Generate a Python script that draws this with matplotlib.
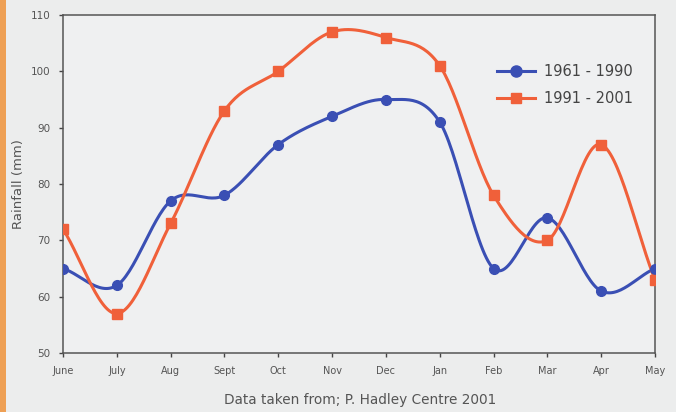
import numpy as np
import matplotlib
matplotlib.use("Agg")
import matplotlib.pyplot as plt
from matplotlib.lines import Line2D
from matplotlib.patches import Rectangle

months = ["June", "July", "Aug", "Sept", "Oct", "Nov", "Dec", "Jan", "Feb", "Mar", "Apr", "May"]
rain_1961_1990 = [65, 62, 77, 78, 87, 92, 95, 91, 65, 74, 61, 65]
rain_1991_2001 = [72, 57, 73, 93, 100, 107, 106, 101, 78, 70, 87, 63]
yticks = [50, 60, 70, 80, 90, 100, 110]

BLUE = "#3a4fb4"
ORANGE = "#f0603a"
BG = "#eceded"


def smooth(y, n=30):
    """Catmull-Rom spline through the data points (display smoothing only)."""
    y = np.asarray(y, float)
    x = np.arange(len(y), dtype=float)
    px = np.concatenate([[2 * x[0] - x[1]], x, [2 * x[-1] - x[-2]]])
    py = np.concatenate([[2 * y[0] - y[1]], y, [2 * y[-1] - y[-2]]])
    xs, ys = [], []
    t = np.linspace(0, 1, n, endpoint=False)
    for i in range(1, len(px) - 2):
        p0, p1, p2, p3 = py[i - 1], py[i], py[i + 1], py[i + 2]
        q0, q1, q2, q3 = px[i - 1], px[i], px[i + 1], px[i + 2]
        f = lambda a0, a1, a2, a3: 0.5 * ((2 * a1) + (-a0 + a2) * t
                                          + (2 * a0 - 5 * a1 + 4 * a2 - a3) * t ** 2
                                          + (-a0 + 3 * a1 - 3 * a2 + a3) * t ** 3)
        xs.append(f(q0, q1, q2, q3))
        ys.append(f(p0, p1, p2, p3))
    xs.append([x[-1]])
    ys.append([y[-1]])
    return np.concatenate(xs), np.concatenate(ys)


fig = plt.figure(figsize=(6.76, 4.12), dpi=100)
fig.patch.set_facecolor(BG)
fig.patches.append(Rectangle((0, 0), 6 / 676, 1, transform=fig.transFigure,
                             facecolor="#eea055", edgecolor="none", zorder=0))

ax = fig.add_axes([63 / 676, 59 / 412, 592 / 676, 338 / 412])
ax.set_facecolor("#eff0f1")

x = np.arange(len(months))
for data, col, mk in [(rain_1961_1990, BLUE, "o"), (rain_1991_2001, ORANGE, "s")]:
    sx, sy = smooth(data)
    ax.plot(sx, sy, color=col, lw=2.2, solid_capstyle="round", zorder=3)
    ax.plot(x, data, linestyle="none", marker=mk, color=col,
            markersize=7 if mk == "o" else 6.5, zorder=4)

ax.set_xlim(0, len(months) - 1)
ax.set_ylim(50, 110)
ax.set_xticks(x)
ax.set_xticklabels(months, fontsize=7, color="#555555")
ax.set_yticks(yticks)
ax.set_yticklabels([str(v) for v in yticks], fontsize=7.5, color="#555555")
ax.tick_params(axis="both", direction="out", length=3, width=1, color="#444444", pad=6)
for s in ax.spines.values():
    s.set_color("#555555")
    s.set_linewidth(1.1)
ax.set_ylabel("Rainfall (mm)", fontsize=9.5, color="#555555", labelpad=4)

handles = [Line2D([0], [0], color=BLUE, lw=2.2, marker="o", markersize=8),
           Line2D([0], [0], color=ORANGE, lw=2.2, marker="s", markersize=7)]
ax.legend(handles, ["1961 - 1990", "1991 - 2001"], loc="upper right",
          bbox_to_anchor=(0.985, 0.895), frameon=False, fontsize=10.5,
          labelcolor="#444444", handlelength=2.6, handletextpad=0.6, labelspacing=0.85)

fig.text(360 / 676, 1 - 400 / 412, "Data taken from; P. Hadley Centre 2001",
         ha="center", va="center", fontsize=9.8, color="#555555")

fig.savefig("out.png", dpi=100, facecolor=fig.get_facecolor())
